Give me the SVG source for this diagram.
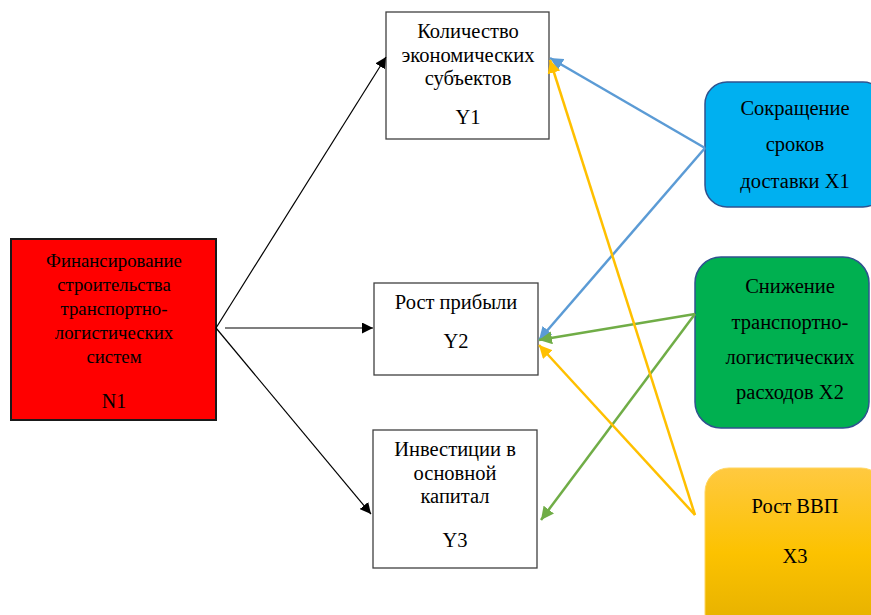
<svg xmlns="http://www.w3.org/2000/svg" width="871" height="615" viewBox="0 0 871 615">
<style>
text{font-family:'Liberation Serif','Times New Roman',serif;font-size:20.5px;fill:#000;text-anchor:middle}
.n1 text{font-size:18.8px}
.box{fill:#fff;stroke:#404040;stroke-width:1.3}
.blk{stroke:#000;stroke-width:1.2;fill:none}
.blu{stroke:#5b9bd5;stroke-width:2.5;fill:none}
.grn{stroke:#70ad47;stroke-width:2.5;fill:none}
.yel{stroke:#ffc000;stroke-width:2.5;fill:none}
</style>
<defs>
<marker id="ab" viewBox="0 0 10 10" refX="10" refY="5" markerWidth="11" markerHeight="11" markerUnits="userSpaceOnUse" orient="auto"><path d="M0,0L10,5L0,10z" fill="#000"/></marker>
<marker id="au" viewBox="0 0 10 10" refX="10" refY="5" markerWidth="13" markerHeight="13" markerUnits="userSpaceOnUse" orient="auto"><path d="M0,0L10,5L0,10z" fill="#5b9bd5"/></marker>
<marker id="ag" viewBox="0 0 10 10" refX="10" refY="5" markerWidth="13" markerHeight="13" markerUnits="userSpaceOnUse" orient="auto"><path d="M0,0L10,5L0,10z" fill="#70ad47"/></marker>
<marker id="ay" viewBox="0 0 10 10" refX="10" refY="5" markerWidth="13" markerHeight="13" markerUnits="userSpaceOnUse" orient="auto"><path d="M0,0L10,5L0,10z" fill="#ffc000"/></marker>
<linearGradient id="gy" x1="0" y1="0" x2="0" y2="1"><stop offset="0" stop-color="#ffc940"/><stop offset="0.5" stop-color="#fcc200"/><stop offset="1" stop-color="#e2ae00"/></linearGradient>
</defs>
<g id="N1" class="n1">
<rect x="11" y="239" width="205" height="181" fill="#ff0000" stroke="#1a1a1a" stroke-width="2"/>
<text x="114" y="267">Финансирование</text>
<text x="114" y="291">строительства</text>
<text x="114" y="315">транспортно-</text>
<text x="114" y="339">логистических</text>
<text x="114" y="363">систем</text>
<text x="114" y="408" style="font-size:20px">N1</text>
</g>
<g id="Y1">
<rect class="box" x="386" y="12" width="163" height="127"/>
<text x="468" y="38">Количество</text>
<text x="468" y="62">экономических</text>
<text x="468" y="85">субъектов</text>
<text x="468" y="124">Y1</text>
</g>
<g id="Y2">
<rect class="box" x="374" y="283" width="164" height="92"/>
<text x="456" y="309">Рост прибыли</text>
<text x="456" y="348">Y2</text>
</g>
<g id="Y3">
<rect class="box" x="373" y="430" width="164" height="138"/>
<text x="455" y="456">Инвестиции в</text>
<text x="455" y="480">основной</text>
<text x="455" y="503">капитал</text>
<text x="455" y="547">Y3</text>
</g>
<g id="X1">
<rect x="705" y="82" width="180" height="125" rx="22" fill="#00b0f0" stroke="#2f528f" stroke-width="1.5"/>
<text x="795" y="115">Сокращение</text>
<text x="795" y="151">сроков</text>
<text x="795" y="188">доставки X1</text>
</g>
<g id="X2">
<rect x="695" y="257" width="174" height="171" rx="26" fill="#00b050" stroke="#2f528f" stroke-width="1.5"/>
<text x="790" y="293">Снижение</text>
<text x="790" y="329">транспортно-</text>
<text x="790" y="364">логистических</text>
<text x="790" y="399">расходов X2</text>
</g>
<g id="X3">
<rect x="705" y="468" width="180" height="170" rx="24" fill="url(#gy)" stroke="#ffd560" stroke-width="1"/>
<text x="795" y="513">Рост ВВП</text>
<text x="795" y="563">X3</text>
</g>
<g id="connectors">
<line class="blk" x1="216" y1="328" x2="386" y2="57" marker-end="url(#ab)"/>
<line class="blk" x1="225" y1="328" x2="373" y2="328" marker-end="url(#ab)"/>
<line class="blk" x1="216" y1="328" x2="371" y2="514" marker-end="url(#ab)"/>
<line class="blu" x1="705" y1="148" x2="550" y2="58" marker-end="url(#au)"/>
<line class="blu" x1="705" y1="148" x2="539" y2="340" marker-end="url(#au)"/>
<line class="grn" x1="695" y1="314" x2="539" y2="340" marker-end="url(#ag)"/>
<line class="grn" x1="695" y1="314" x2="541" y2="520" marker-end="url(#ag)"/>
<line class="yel" x1="695" y1="515" x2="550" y2="60" marker-end="url(#ay)"/>
<line class="yel" x1="695" y1="515" x2="539" y2="345" marker-end="url(#ay)"/>
</g>
</svg>
